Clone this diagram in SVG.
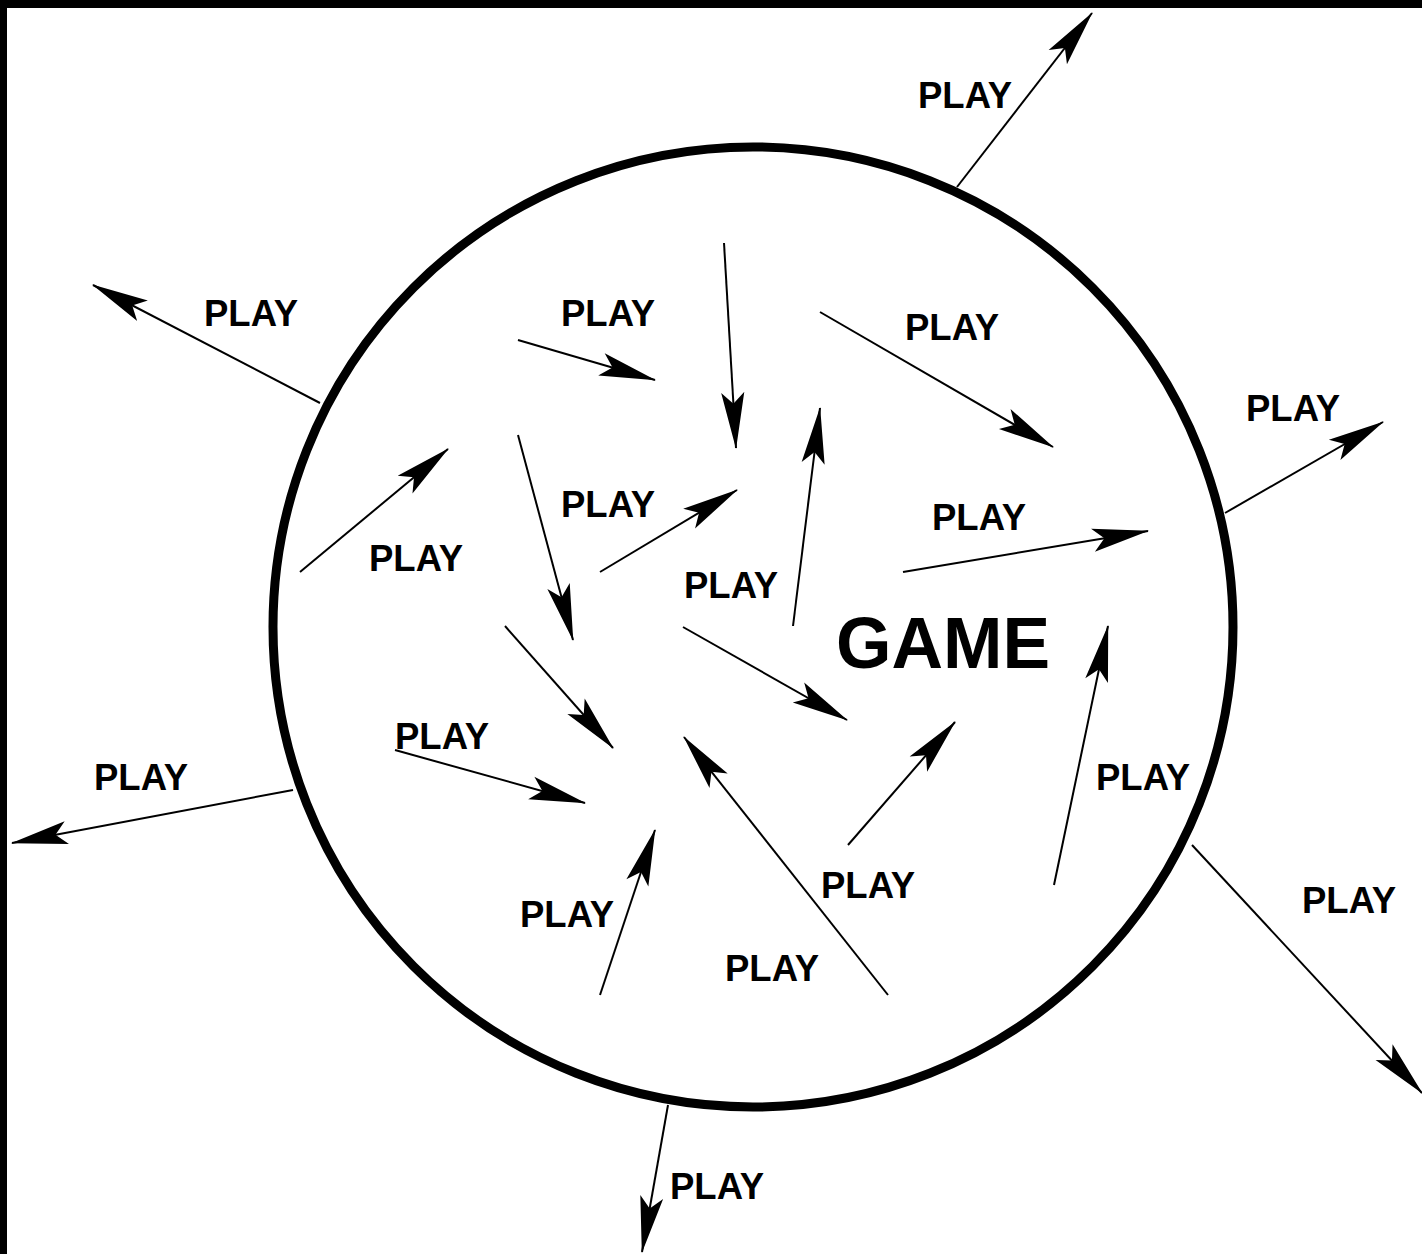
<svg xmlns="http://www.w3.org/2000/svg" width="1422" height="1254" viewBox="0 0 1422 1254">
<defs>
<marker id="ah" markerUnits="userSpaceOnUse" orient="auto" refX="0" refY="0" markerWidth="60" markerHeight="30" viewBox="-55 -12 57 24" overflow="visible">
<path d="M1,0 L-53,-11 L-42,0 L-53,11 Z" fill="#000"/>
</marker>
<style>
.c line{stroke:#000;stroke-width:2;marker-end:url(#ah)}
text{font-family:"Liberation Sans",Arial,sans-serif;font-weight:bold;fill:#000}
.p{font-size:36.5px}
.g{font-size:73px}
</style>
</defs>
<rect x="0" y="0" width="1422" height="1254" fill="#fff"/>
<rect x="0" y="0" width="1422" height="8" fill="#000"/>
<rect x="0" y="0" width="7" height="1254" fill="#000"/>
<g id="game">
<circle cx="753" cy="627" r="480" fill="none" stroke="#000" stroke-width="9"/>
<text class="g" x="836" y="668" textLength="214" lengthAdjust="spacingAndGlyphs">GAME</text>
</g>
<g class="c" id="connectors">
<line x1="957" y1="187" x2="1092" y2="13"/>
<line x1="320" y1="403" x2="93" y2="285"/>
<line x1="293" y1="790" x2="12" y2="843"/>
<line x1="668" y1="1105" x2="642" y2="1252"/>
<line x1="1192" y1="845" x2="1422" y2="1093"/>
<line x1="1225" y1="513" x2="1383" y2="422"/>
<line x1="518" y1="340" x2="655" y2="380"/>
<line x1="724" y1="243" x2="736" y2="448"/>
<line x1="820" y1="312" x2="1053" y2="447"/>
<line x1="300" y1="572" x2="448" y2="449"/>
<line x1="518" y1="435" x2="573" y2="640"/>
<line x1="600" y1="572" x2="737" y2="490"/>
<line x1="793" y1="626" x2="820" y2="408"/>
<line x1="903" y1="572" x2="1148" y2="531"/>
<line x1="505" y1="626" x2="613" y2="748"/>
<line x1="683" y1="627" x2="847" y2="720"/>
<line x1="395" y1="750" x2="585" y2="803"/>
<line x1="600" y1="995" x2="655" y2="830"/>
<line x1="888" y1="995" x2="684" y2="737"/>
<line x1="848" y1="845" x2="955" y2="722"/>
<line x1="1054" y1="885" x2="1108" y2="626"/>
</g>
<g id="labels">
<text class="p" x="918" y="108">PLAY</text>
<text class="p" x="204" y="326">PLAY</text>
<text class="p" x="94" y="790">PLAY</text>
<text class="p" x="670" y="1199">PLAY</text>
<text class="p" x="1302" y="913">PLAY</text>
<text class="p" x="1246" y="421">PLAY</text>
<text class="p" x="561" y="326">PLAY</text>
<text class="p" x="905" y="340">PLAY</text>
<text class="p" x="369" y="571">PLAY</text>
<text class="p" x="561" y="517">PLAY</text>
<text class="p" x="684" y="598">PLAY</text>
<text class="p" x="932" y="530">PLAY</text>
<text class="p" x="395" y="749">PLAY</text>
<text class="p" x="520" y="927">PLAY</text>
<text class="p" x="725" y="981">PLAY</text>
<text class="p" x="821" y="898">PLAY</text>
<text class="p" x="1096" y="790">PLAY</text>
</g>
</svg>
